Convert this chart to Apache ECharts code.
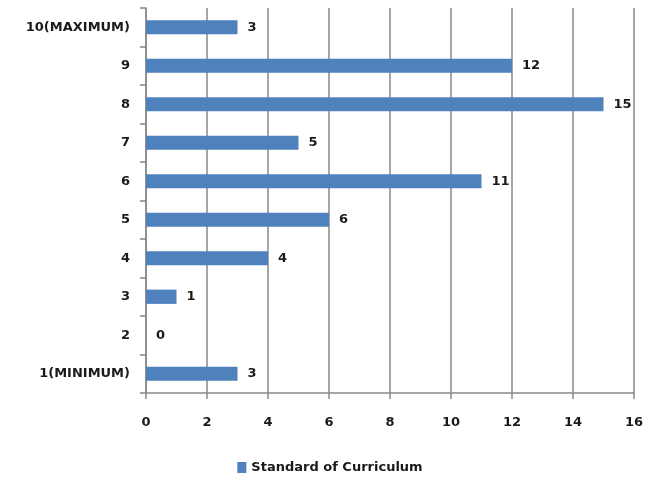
<!DOCTYPE html>
<html>
<head>
<meta charset="utf-8">
<script src="https://cdn.jsdelivr.net/npm/echarts@6/dist/echarts.min.js"></script>
<style>html,body{margin:0;padding:0;background:#fff;}#main{width:660px;height:483px;}</style>
</head>
<body>
<div id="main"></div>
<script>
const categories = ['1(MINIMUM)', '2', '3', '4', '5', '6', '7', '8', '9', '10(MAXIMUM)'];
const values = [3, 0, 1, 4, 6, 11, 5, 15, 12, 3];
const seriesName = 'Standard of Curriculum';

const chart = echarts.init(document.getElementById('main'));
const font = 'DejaVu Sans';
const txt = { fontFamily: font, fontSize: 13, fontWeight: 'bold', color: '#1a1a1a' };
chart.setOption({
  animation: false,
  backgroundColor: '#fff',
  grid: { left: 146, right: 26, top: 8, bottom: 90 },
  legend: {
    data: [seriesName],
    bottom: 4,
    left: 'center',
    itemWidth: 9, itemHeight: 11, itemGap: 3,
    icon: 'rect',
    textStyle: Object.assign({}, txt, { fontSize: 13 })
  },
  xAxis: {
    type: 'value', min: 0, max: 16, interval: 2,
    axisLine: { show: true, lineStyle: { color: '#888', width: 1.5 } },
    axisTick: { show: true, length: 6, lineStyle: { color: '#888', width: 1.5 } },
    splitLine: { show: true, lineStyle: { color: '#888', width: 1.5 } },
    axisLabel: Object.assign({ margin: 23 }, txt)
  },
  yAxis: {
    type: 'category', data: categories,
    axisLine: { show: true, lineStyle: { color: '#888', width: 1.5 } },
    axisTick: { show: true, length: 6, lineStyle: { color: '#888', width: 1.5 } },
    axisLabel: Object.assign({ margin: 16 }, txt)
  },
  series: [{
    name: seriesName, type: 'bar', data: values,
    barWidth: '37%',
    itemStyle: { color: '#4F81BD' },
    label: Object.assign({ show: true, position: 'right', distance: 10 }, txt)
  }]
});
</script>
</body>
</html>
